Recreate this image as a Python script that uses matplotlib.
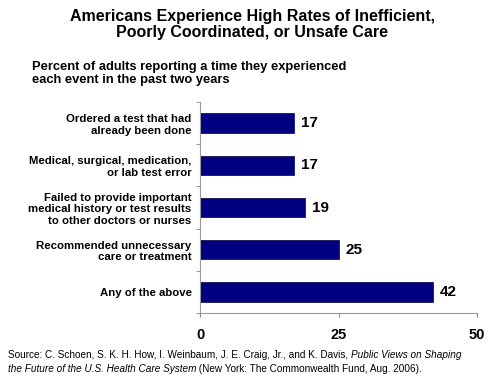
import matplotlib
matplotlib.use('Agg')
import matplotlib.pyplot as plt

plt.rcParams['font.family'] = ['Liberation Sans', 'DejaVu Sans']

# Данные
labels = ['Ordered a test that had\nalready been done',
          'Medical, surgical, medication,\nor lab test error',
          'Failed to provide important\nmedical history or test results\nto other doctors or nurses',
          'Recommended unnecessary\ncare or treatment',
          'Any of the above']
values = [17, 17, 19, 25, 42]
xticks = [0, 25, 50]

fig = plt.figure(figsize=(4.9, 3.77), dpi=100)
ax = fig.add_axes([200 / 490, 1 - 313 / 377, 277 / 490, 211 / 377])

pos = list(range(len(values)))[::-1]
ax.barh(pos, values, height=0.46, color='#000080', edgecolor='#000040', linewidth=0.5)
for p, v in zip(pos, values):
    ax.text(v + 1.2, p, str(v), va='center', ha='left', fontsize=11, fontweight='bold')

ax.set_xlim(0, 50)
ax.set_ylim(-0.5, len(values) - 0.5)
ax.set_xticks(xticks)
ax.set_xticklabels([str(t) for t in xticks], fontsize=10.5, fontweight='bold')
ax.set_yticks(pos)
ax.set_yticklabels(labels, fontsize=8.2, fontweight='bold', linespacing=1.2)
ax.set_yticks([p + 0.5 for p in pos] + [-0.5], minor=True)
ax.tick_params(axis='y', which='major', length=0, pad=6)
ax.tick_params(axis='y', which='minor', length=3, color='#888888', direction='out')
ax.tick_params(axis='x', length=3, color='#888888', direction='out', pad=8)
for s in ['top', 'right']:
    ax.spines[s].set_visible(False)
for s in ['left', 'bottom']:
    ax.spines[s].set_color('#999999')
    ax.spines[s].set_linewidth(0.8)

fig.text(0.515, 1 - 9 / 377, 'Americans Experience High Rates of Inefficient,\nPoorly Coordinated, or Unsafe Care',
         ha='center', va='top', fontsize=11.5, fontweight='bold', linespacing=1.1)
fig.text(32 / 490, 1 - 61 / 377, 'Percent of adults reporting a time they experienced\neach event in the past two years',
         ha='left', va='top', fontsize=9.3, fontweight='bold', linespacing=1.1)

# Подпись источника
fs = 7.2
t1 = fig.text(8 / 490, 1 - 360 / 377,
              'Source: C. Schoen, S. K. H. How, I. Weinbaum, J. E. Craig, Jr., and K. Davis, ',
              ha='left', va='bottom', fontsize=fs)
plt.annotate('Public Views on Shaping', xy=(1, 0), xycoords=t1, ha='left', va='bottom',
             fontsize=fs, style='italic')
t2 = fig.text(8 / 490, 1 - 374 / 377, 'the Future of the U.S. Health Care System',
              ha='left', va='bottom', fontsize=fs, style='italic')
plt.annotate(' (New York: The Commonwealth Fund, Aug. 2006).', xy=(1, 0), xycoords=t2,
             ha='left', va='bottom', fontsize=fs)

fig.savefig('out.png', dpi=100)
